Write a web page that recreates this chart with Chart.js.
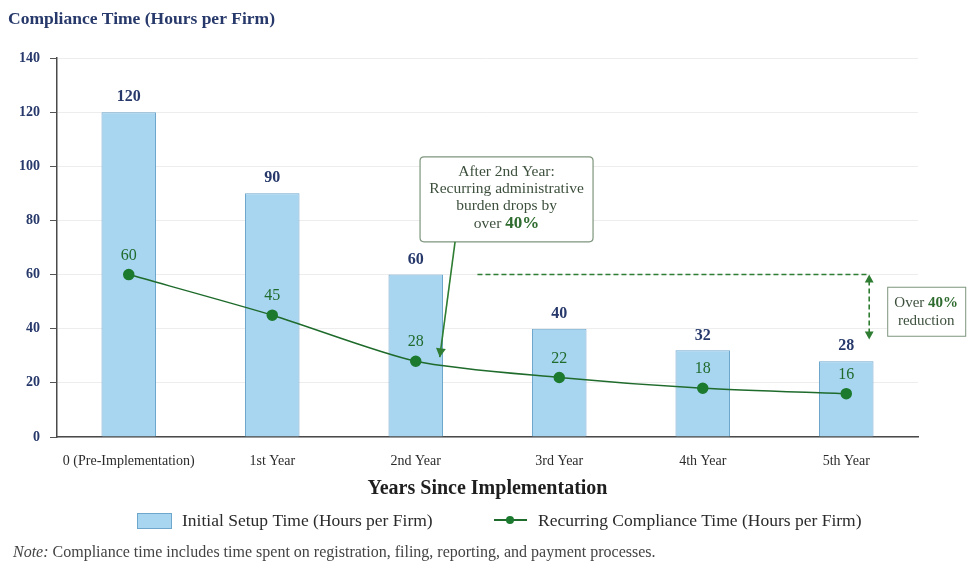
<!DOCTYPE html>
<html>
<head>
<meta charset="utf-8">
<script src="https://cdn.jsdelivr.net/npm/chart.js@4"></script>
<style>
  html, body { margin: 0; padding: 0; background: #ffffff; }
  #wrap { width: 969px; height: 563px; position: relative; }
</style>
</head>
<body>
<div id="wrap"><canvas id="c" width="969" height="563"></canvas></div>
<script>
const categories = ["0 (Pre-Implementation)", "1st Year", "2nd Year", "3rd Year", "4th Year", "5th Year"];
const initialSetup = [120, 90, 60, 40, 32, 28];
const recurring = [60, 45, 28, 22, 18, 16];
const yTicks = [0, 20, 40, 60, 80, 100, 120, 140];
const seriesNames = ["Initial Setup Time (Hours per Firm)", "Recurring Compliance Time (Hours per Firm)"];
const titleText = "Compliance Time (Hours per Firm)";
const xTitle = "Years Since Implementation";
const noteLead = "Note:";
const noteText = " Compliance time includes time spent on registration, filing, reporting, and payment processes.";
const calloutLines = ["After 2nd Year:", "Recurring administrative", "burden drops by"];
const reductionFrom = 60, reductionTo = 36;

const SERIF = '"Liberation Serif", "DejaVu Serif", serif';
const NAVY = '#27396b';
const GREEN = '#1f6b2c';
const BAR_FILL = '#a8d5f0';
const BAR_BORDER = '#6ea6cc';

function arrowHead(ctx, x, y, angle, size) {
  ctx.save();
  ctx.translate(x, y);
  ctx.rotate(angle);
  ctx.beginPath();
  ctx.moveTo(0, 0);
  ctx.lineTo(-size, -size * 0.55);
  ctx.lineTo(-size, size * 0.55);
  ctx.closePath();
  ctx.fill();
  ctx.restore();
}

function roundRect(ctx, x, y, w, h, r) {
  ctx.beginPath();
  ctx.moveTo(x + r, y);
  ctx.lineTo(x + w - r, y);
  ctx.quadraticCurveTo(x + w, y, x + w, y + r);
  ctx.lineTo(x + w, y + h - r);
  ctx.quadraticCurveTo(x + w, y + h, x + w - r, y + h);
  ctx.lineTo(x + r, y + h);
  ctx.quadraticCurveTo(x, y + h, x, y + h - r);
  ctx.lineTo(x, y + r);
  ctx.quadraticCurveTo(x, y, x + r, y);
  ctx.closePath();
}

const decor = {
  id: 'decor',
  afterDatasetsDraw(chart) {
    const ctx = chart.ctx;
    const xs = chart.scales.x, ys = chart.scales.y;
    ctx.save();
    // bar value labels
    const barMeta = chart.getDatasetMeta(0);
    ctx.font = 'bold 16px ' + SERIF;
    ctx.fillStyle = NAVY;
    ctx.textAlign = 'center';
    ctx.textBaseline = 'middle';
    barMeta.data.forEach((el, i) => {
      ctx.fillText(String(initialSetup[i]), el.x, el.y - 15);
    });
    // line value labels
    const lineMeta = chart.getDatasetMeta(1);
    ctx.font = '16px ' + SERIF;
    ctx.fillStyle = GREEN;
    lineMeta.data.forEach((el, i) => {
      ctx.fillText(String(recurring[i]), el.x, el.y - 19);
    });

    // dashed reference line at the pre-implementation recurring level
    const yTop = ys.getPixelForValue(reductionFrom);
    const yBot = ys.getPixelForValue(reductionTo);
    const xStart = xs.getPixelForValue(2.43);
    const xArrow = xs.getPixelForValue(5.16);
    ctx.strokeStyle = '#2e7d32';
    ctx.fillStyle = '#2e7d32';
    ctx.lineWidth = 1.6;
    ctx.setLineDash([5, 3]);
    ctx.beginPath();
    ctx.moveTo(xStart, yTop);
    ctx.lineTo(xArrow, yTop);
    ctx.moveTo(xArrow, yTop + 6);
    ctx.lineTo(xArrow, yBot - 6);
    ctx.stroke();
    ctx.setLineDash([]);
    arrowHead(ctx, xArrow, yTop, -Math.PI / 2, 8);
    arrowHead(ctx, xArrow, yBot, Math.PI / 2, 8);

    // reduction box
    const bx = xArrow + 18, by = ys.getPixelForValue(55.5), bw = 78, bh = 49;
    ctx.fillStyle = '#ffffff';
    ctx.fillRect(bx, by, bw, bh);
    ctx.strokeStyle = '#7d957d';
    ctx.lineWidth = 1;
    ctx.strokeRect(bx + 0.5, by + 0.5, bw, bh);
    ctx.textBaseline = 'middle';
    const t1a = 'Over ';
    ctx.font = '15px ' + SERIF;
    const wA = ctx.measureText(t1a).width;
    ctx.font = 'bold 15px ' + SERIF;
    const wB = ctx.measureText('40%').width;
    const cx = bx + bw / 2;
    let sx = cx - (wA + wB) / 2;
    ctx.textAlign = 'left';
    ctx.font = '15px ' + SERIF;
    ctx.fillStyle = '#3c4f3c';
    ctx.fillText(t1a, sx, by + 16);
    ctx.font = 'bold 15px ' + SERIF;
    ctx.fillStyle = '#2e6b2e';
    ctx.fillText('40%', sx + wA, by + 16);
    ctx.textAlign = 'center';
    ctx.font = '15px ' + SERIF;
    ctx.fillStyle = '#3c4f3c';
    ctx.fillText('reduction', cx, by + 34);

    // callout box
    const cbx = xs.getPixelForValue(2.03), cby = ys.getPixelForValue(103.5);
    const cbw = 173, cbh = 85;
    ctx.fillStyle = '#ffffff';
    roundRect(ctx, cbx, cby, cbw, cbh, 4);
    ctx.fill();
    ctx.strokeStyle = '#7d957d';
    ctx.lineWidth = 1.2;
    ctx.stroke();
    const ccx = cbx + cbw / 2;
    ctx.fillStyle = '#3c4f3c';
    ctx.font = '15.5px ' + SERIF;
    ctx.textAlign = 'center';
    calloutLines.forEach((t, i) => ctx.fillText(t, ccx, cby + 15 + i * 17));
    const o1 = 'over ';
    ctx.font = '15.5px ' + SERIF;
    const ow = ctx.measureText(o1).width;
    ctx.font = 'bold 17px ' + SERIF;
    const pw = ctx.measureText('40%').width;
    let ox = ccx - (ow + pw) / 2;
    ctx.textAlign = 'left';
    ctx.font = '15.5px ' + SERIF;
    ctx.fillStyle = '#3c4f3c';
    ctx.fillText(o1, ox, cby + 15 + 3 * 17 + 1);
    ctx.font = 'bold 17px ' + SERIF;
    ctx.fillStyle = '#2e6b2e';
    ctx.fillText('40%', ox + ow, cby + 15 + 3 * 17 + 1);

    // callout arrow to 2nd-year point
    const p2 = lineMeta.data[2];
    const ax0 = cbx + 35, ay0 = cby + cbh;
    const ax1 = p2.x + 24, ay1 = p2.y - 4;
    ctx.strokeStyle = '#2e7d32';
    ctx.fillStyle = '#2e7d32';
    ctx.lineWidth = 1.6;
    ctx.beginPath();
    ctx.moveTo(ax0, ay0);
    ctx.lineTo(ax1, ay1);
    ctx.stroke();
    arrowHead(ctx, ax1, ay1, Math.atan2(ay1 - ay0, ax1 - ax0), 9);
    ctx.restore();
  },
  afterDraw(chart) {
    const ctx = chart.ctx;
    ctx.save();
    // title
    ctx.font = 'bold 17.5px ' + SERIF;
    ctx.fillStyle = NAVY;
    ctx.textAlign = 'left';
    ctx.textBaseline = 'middle';
    ctx.fillText(titleText, 8, 19);
    // legend
    const ly = 520;
    ctx.fillStyle = BAR_FILL;
    ctx.fillRect(137, ly - 7, 34, 15);
    ctx.strokeStyle = BAR_BORDER;
    ctx.lineWidth = 1;
    ctx.strokeRect(137.5, ly - 6.5, 34, 15);
    ctx.font = '17.5px ' + SERIF;
    ctx.fillStyle = '#2b2b2b';
    ctx.fillText(seriesNames[0], 182, ly + 1);
    ctx.strokeStyle = GREEN;
    ctx.lineWidth = 2;
    ctx.beginPath();
    ctx.moveTo(494, ly);
    ctx.lineTo(527, ly);
    ctx.stroke();
    ctx.fillStyle = '#1c7a2f';
    ctx.beginPath();
    ctx.arc(510, ly, 4, 0, Math.PI * 2);
    ctx.fill();
    ctx.fillStyle = '#2b2b2b';
    ctx.fillText(seriesNames[1], 538, ly + 1);
    // note
    ctx.font = 'italic 16px ' + SERIF;
    ctx.fillStyle = '#444444';
    ctx.fillText(noteLead, 13, 553);
    const nw = ctx.measureText(noteLead).width;
    ctx.font = '16px ' + SERIF;
    ctx.fillText(noteText, 13 + nw, 553);
    ctx.restore();
  }
};

new Chart(document.getElementById('c'), {
  data: {
    labels: categories,
    datasets: [
      {
        type: 'bar',
        label: seriesNames[0],
        data: initialSetup,
        backgroundColor: BAR_FILL,
        borderColor: BAR_BORDER,
        borderWidth: 1,
        categoryPercentage: 1,
        barPercentage: 0.38,
        order: 2
      },
      {
        type: 'line',
        label: seriesNames[1],
        data: recurring,
        borderColor: GREEN,
        borderWidth: 1.5,
        pointBackgroundColor: '#1c7a2f',
        pointBorderColor: '#1c7a2f',
        pointRadius: 5,
        tension: 0.25,
        order: 1
      }
    ]
  },
  options: {
    responsive: false,
    animation: false,
    devicePixelRatio: 1,
    layout: { padding: { left: 0, right: 51, top: 58, bottom: 0 } },
    plugins: {
      legend: { display: false },
      tooltip: { enabled: false },
      title: { display: false }
    },
    scales: {
      x: {
        type: 'category',
        offset: true,
        grid: { display: false, drawTicks: false },
        border: { display: true, color: '#4a4a4a', width: 1.5 },
        ticks: {
          padding: 16,
          color: '#2b2b2b',
          font: { family: SERIF, size: 14 },
          maxRotation: 0,
          autoSkip: false
        },
        title: {
          display: true,
          text: xTitle,
          color: '#1e1e1e',
          font: { family: SERIF, size: 20, weight: 'bold' },
          padding: { top: 0, bottom: 62 }
        },
        afterFit(scale) { scale.height = 126; }
      },
      y: {
        type: 'linear',
        min: 0,
        max: 140,
        afterBuildTicks(scale) { scale.ticks = yTicks.map(v => ({ value: v })); },
        grid: {
          color: 'rgba(0,0,0,0.07)',
          tickColor: '#555555',
          tickLength: 7,
          drawTicks: true
        },
        border: { display: true, color: '#4a4a4a', width: 1.5 },
        ticks: {
          padding: 10,
          color: NAVY,
          font: { family: SERIF, size: 14, weight: 'bold' }
        },
        afterFit(scale) { scale.width = 57; }
      }
    }
  },
  plugins: [decor]
});
</script>
</body>
</html>
